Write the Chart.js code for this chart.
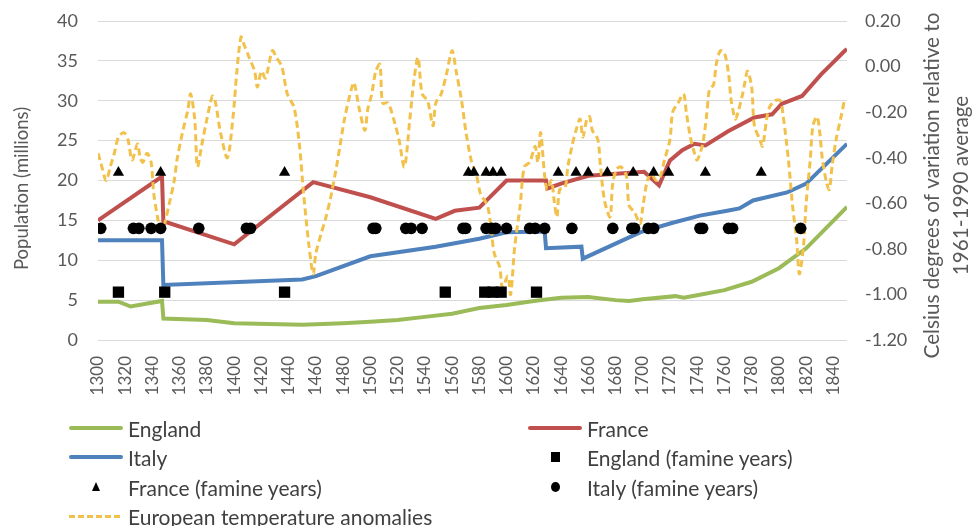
<!DOCTYPE html>
<html><head><meta charset="utf-8">
<script src="https://cdn.jsdelivr.net/npm/chart.js@4.4.0/dist/chart.umd.min.js"></script>
<style>
html,body{margin:0;padding:0;background:#fff;}
#wrap{position:relative;width:974px;height:526px;overflow:hidden;font-family:Lato,"Open Sans",sans-serif;}
#c{position:absolute;left:0;top:0;}
.lg{position:absolute;height:30px;display:flex;align-items:center;font-size:21px;color:#404040;white-space:nowrap;}
.sym{position:relative;width:54px;height:30px;margin-right:5px;flex:none;}
.ln{position:absolute;left:0;right:0;top:13px;height:4px;border-radius:2px;}
.dash{position:absolute;left:0;right:0;top:14px;height:3px;background:repeating-linear-gradient(90deg,#F2C14B 0 6px,transparent 6px 9px);}
.sq{position:absolute;left:23px;top:10px;width:9px;height:10px;background:#000;}
.ci{position:absolute;left:23px;top:10px;width:9px;height:10px;border-radius:50%;background:#000;}
.tr{position:absolute;left:23px;top:10px;width:0;height:0;border-left:4.5px solid transparent;border-right:4.5px solid transparent;border-bottom:9px solid #000;}
</style></head>
<body>
<div id="wrap">
<canvas id="c" width="974" height="526"></canvas>
<div class="lg" style="left:69px;top:413px"><div class="sym"><div class="ln" style="background:#9BBB59"></div></div>England</div>
<div class="lg" style="left:528px;top:413px"><div class="sym"><div class="ln" style="background:#C0504D"></div></div>France</div>
<div class="lg" style="left:69px;top:442px"><div class="sym"><div class="ln" style="background:#4F81BD"></div></div>Italy</div>
<div class="lg" style="left:528px;top:442px"><div class="sym"><div class="sq"></div></div>England (famine years)</div>
<div class="lg" style="left:69px;top:472px"><div class="sym"><div class="tr"></div></div>France (famine years)</div>
<div class="lg" style="left:528px;top:472px"><div class="sym"><div class="ci"></div></div>Italy (famine years)</div>
<div class="lg" style="left:69px;top:501px"><div class="sym"><div class="dash"></div></div>European temperature anomalies</div>
</div>
<script>
// ---- Data ----
const xTickValues = [1300,1320,1340,1360,1380,1400,1420,1440,1460,1480,1500,1520,1540,1560,1580,1600,1620,1640,1660,1680,1700,1720,1740,1760,1780,1800,1820,1840];
const yTickValues = [0,5,10,15,20,25,30,35,40];
const y2TickValues = [-1.2,-1.0,-0.8,-0.6,-0.4,-0.2,0.0,0.2];

const englandYears = [1300,1315,1324,1347,1348,1380,1400,1450,1480,1500,1520,1540,1560,1580,1600,1620,1640,1660,1680,1690,1700,1724,1730,1740,1760,1780,1800,1820,1850];
const englandPop   = [4.8,4.8,4.2,4.9,2.7,2.5,2.1,1.9,2.1,2.3,2.5,2.9,3.3,4.0,4.4,4.9,5.3,5.4,5.0,4.9,5.1,5.5,5.3,5.6,6.25,7.3,9.0,11.5,16.7];

const franceYears = [1300,1347,1348,1400,1458,1500,1548,1562,1580,1600,1629,1630,1640,1660,1701,1712,1720,1729,1738,1746,1763,1782,1795,1802,1817,1831,1841,1848,1850];
const francePop   = [15.0,20.5,14.9,12.0,19.8,17.9,15.2,16.2,16.6,20.0,20.0,19.0,19.6,20.6,21.1,19.4,22.5,23.8,24.6,24.4,26.2,27.9,28.3,29.6,30.6,33.3,35.0,36.2,36.5];

const italyYears = [1300,1347,1348,1450,1460,1500,1548,1580,1600,1628,1629,1655,1656,1698,1722,1742,1762,1771,1781,1806,1820,1850];
const italyPop   = [12.5,12.5,6.9,7.6,8.0,10.5,11.7,12.7,13.5,13.6,11.5,11.7,10.2,13.5,14.7,15.6,16.2,16.5,17.5,18.5,19.6,24.6];

const englandFamineYears = [1315,1349,1437,1555,1584,1590,1596,1622];
const englandFamineLevel = 6;
const franceFamineYears = [1315,1346,1437,1572,1576,1585,1590,1596,1638,1651,1660,1674,1693,1708,1719,1746,1787];
const franceFamineLevel = 21;
const italyFamineYears = [1302,1326,1330,1339,1346,1374,1409,1412,1502,1504,1526,1530,1538,1568,1570,1585,1589,1592,1600,1617,1621,1628,1648,1678,1692,1694,1704,1708,1742,1744,1763,1766,1816];
const italyFamineLevel = 14;

const tempYears = [1300,1302,1306,1309,1312,1315,1319,1322,1325,1329,1331,1333,1336,1339,1341,1344,1346,1348,1352,1356,1358,1362,1366,1368,1371,1373,1376,1380,1384,1386,1390,1395,1399,1402,1405,1407,1411,1415,1417,1420,1423,1428,1431,1435,1439,1444,1448,1451,1455,1458,1460,1464,1467,1471,1476,1481,1486,1488,1492,1496,1498,1501,1504,1507,1509,1513,1518,1521,1525,1529,1532,1535,1538,1542,1546,1548,1552,1556,1560,1563,1567,1570,1574,1578,1581,1586,1589,1591,1595,1597,1601,1603,1606,1610,1613,1617,1621,1623,1625,1628,1630,1633,1635,1637,1639,1643,1645,1648,1651,1654,1656,1659,1661,1663,1667,1669,1672,1676,1678,1681,1684,1688,1690,1694,1698,1700,1703,1706,1710,1713,1716,1720,1722,1726,1730,1732,1735,1738,1740,1744,1747,1749,1752,1754,1757,1760,1763,1765,1768,1770,1773,1775,1777,1780,1782,1786,1788,1791,1793,1797,1801,1803,1807,1810,1813,1815,1818,1820,1823,1825,1828,1830,1832,1835,1837,1839,1842,1846,1848];
const tempAnom = [-0.38,-0.42,-0.50,-0.44,-0.38,-0.31,-0.29,-0.32,-0.41,-0.34,-0.40,-0.42,-0.38,-0.42,-0.56,-0.67,-0.72,-0.71,-0.61,-0.50,-0.41,-0.29,-0.19,-0.12,-0.23,-0.44,-0.35,-0.23,-0.13,-0.15,-0.29,-0.40,-0.23,-0.02,0.13,0.10,0.04,-0.02,-0.09,-0.02,-0.05,0.07,0.04,0.00,-0.12,-0.18,-0.35,-0.56,-0.79,-0.91,-0.82,-0.73,-0.67,-0.57,-0.41,-0.23,-0.10,-0.07,-0.19,-0.28,-0.19,-0.12,-0.02,0.01,-0.16,-0.16,-0.25,-0.32,-0.44,-0.23,-0.06,0.04,-0.12,-0.15,-0.26,-0.16,-0.12,-0.03,0.07,-0.02,-0.15,-0.28,-0.41,-0.48,-0.56,-0.61,-0.73,-0.82,-0.88,-0.97,-0.92,-1.00,-0.79,-0.61,-0.44,-0.42,-0.35,-0.42,-0.29,-0.48,-0.54,-0.50,-0.59,-0.66,-0.54,-0.53,-0.44,-0.35,-0.28,-0.23,-0.31,-0.23,-0.22,-0.28,-0.32,-0.44,-0.59,-0.66,-0.51,-0.45,-0.44,-0.48,-0.61,-0.64,-0.69,-0.62,-0.51,-0.47,-0.50,-0.48,-0.41,-0.32,-0.20,-0.16,-0.12,-0.20,-0.31,-0.38,-0.41,-0.34,-0.21,-0.10,-0.08,0.01,0.07,0.06,-0.03,-0.15,-0.23,-0.20,-0.13,-0.07,-0.02,-0.09,-0.26,-0.32,-0.35,-0.23,-0.18,-0.15,-0.15,-0.21,-0.41,-0.61,-0.76,-0.91,-0.79,-0.60,-0.41,-0.26,-0.22,-0.29,-0.41,-0.51,-0.54,-0.44,-0.32,-0.21,-0.15];

// ---- Helpers ----
const pts = (xs, ys) => xs.map((x, i) => ({x: x, y: ys[i]}));
const lvl = (xs, v) => xs.map(x => ({x: x, y: v}));

const TXT = '#595959';
const FONT = 'Lato, "Open Sans", sans-serif';

const titlePlugin = {
  id: 'axisTitles',
  afterDraw(chart) {
    const c = chart.ctx;
    c.save();
    c.fillStyle = TXT;
    c.textAlign = 'center';
    c.textBaseline = 'middle';
    const mid = (chart.chartArea.top + chart.chartArea.bottom) / 2;
    const draw = (t, x, y) => { c.save(); c.translate(x, y); c.rotate(-Math.PI / 2); c.fillText(t, 0, 0); c.restore(); };
    c.font = '18.5px ' + FONT;
    draw('Population (millions)', 22, mid + 8);
    c.font = '20.7px ' + FONT;
    draw('Celsius degrees of variation relative to', 932, mid + 5);
    draw('1961-1990 average', 961, mid + 5);
    c.restore();
  }
};

const fitV = w => s => { s.width = w; s.paddingTop = 0; s.paddingBottom = 0; };

new Chart(document.getElementById('c'), {
  type: 'line',
  data: {
    datasets: [
      {label: 'England (famine years)', data: lvl(englandFamineYears, englandFamineLevel), showLine: false, pointStyle: 'rect', pointRadius: 8, backgroundColor: '#000', borderColor: '#000', borderWidth: 0, yAxisID: 'y', order: 0},
      {label: 'France (famine years)', data: lvl(franceFamineYears, franceFamineLevel), showLine: false, pointStyle: 'triangle', pointRadius: 6.5, backgroundColor: '#000', borderColor: '#000', borderWidth: 0, yAxisID: 'y', order: 0},
      {label: 'Italy (famine years)', data: lvl(italyFamineYears, italyFamineLevel), showLine: false, pointStyle: 'circle', pointRadius: 5.8, backgroundColor: '#000', borderColor: '#000', borderWidth: 0, yAxisID: 'y', order: 0},
      {label: 'European temperature anomalies', data: pts(tempYears, tempAnom), borderColor: '#F2C14B', borderWidth: 3, borderDash: [7, 4], pointRadius: 0, tension: 0.3, fill: false, yAxisID: 'y2', order: 1},
      {label: 'England', data: pts(englandYears, englandPop), borderColor: '#9BBB59', borderWidth: 4, pointRadius: 0, tension: 0, fill: false, yAxisID: 'y', order: 2},
      {label: 'France', data: pts(franceYears, francePop), borderColor: '#C0504D', borderWidth: 4, pointRadius: 0, tension: 0, fill: false, yAxisID: 'y', order: 2},
      {label: 'Italy', data: pts(italyYears, italyPop), borderColor: '#4F81BD', borderWidth: 4, pointRadius: 0, tension: 0, fill: false, yAxisID: 'y', order: 2}
    ]
  },
  options: {
    responsive: false,
    animation: false,
    devicePixelRatio: 1,
    layout: {padding: {top: 21, left: 0, right: 0, bottom: 0}},
    plugins: {legend: {display: false}, tooltip: {enabled: false}},
    scales: {
      x: {
        type: 'linear', min: 1300, max: 1850,
        afterBuildTicks: s => { s.ticks = xTickValues.map(v => ({value: v})); },
        afterFit: s => { s.height = 186; },
        grid: {display: false}, border: {display: false},
        ticks: {minRotation: 90, maxRotation: 90, padding: 8, autoSkip: false, color: TXT, font: {family: FONT, size: 17}, callback: v => String(v)}
      },
      y: {
        position: 'left', min: 0, max: 40,
        afterBuildTicks: s => { s.ticks = yTickValues.map(v => ({value: v})); },
        afterFit: fitV(98),
        grid: {color: '#D9D9D9', lineWidth: 1, drawTicks: false}, border: {display: false},
        ticks: {padding: 20, color: TXT, font: {family: FONT, size: 18}}
      },
      y2: {
        position: 'right', min: -1.2, max: 0.2,
        afterBuildTicks: s => { s.ticks = y2TickValues.map(v => ({value: v})); },
        afterFit: fitV(127),
        grid: {display: false, drawTicks: false}, border: {display: false},
        ticks: {padding: 18, color: TXT, font: {family: FONT, size: 18}, callback: v => (Math.abs(v) < 1e-9 ? 0 : v).toFixed(2)}
      }
    }
  },
  plugins: [titlePlugin]
});
</script>
</body></html>
